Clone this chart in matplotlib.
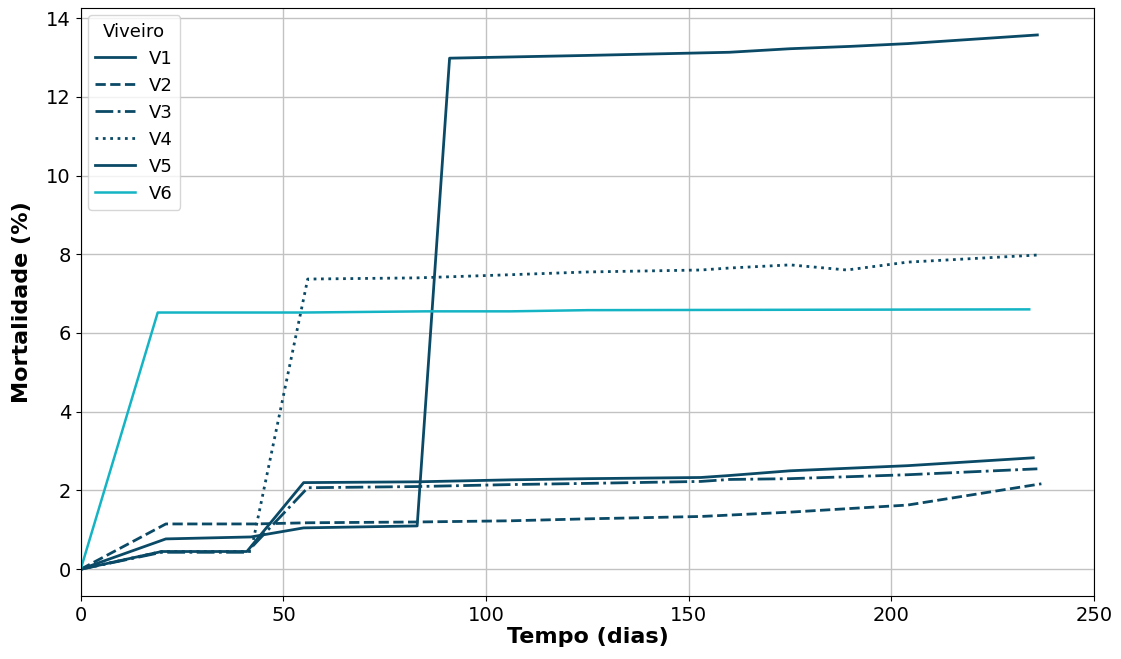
import matplotlib
matplotlib.use("Agg")
import matplotlib.pyplot as plt

# Days and mortality (%) per nursery
days_v1 = [0, 20, 41, 55, 83, 106, 125, 153, 160, 175, 204, 235]
mort_v1 = [0, 0.45, 0.45, 2.20, 2.22, 2.27, 2.30, 2.33, 2.38, 2.50, 2.63, 2.83]

days_v2 = [0, 21, 43, 56, 83, 106, 125, 153, 175, 204, 237]
mort_v2 = [0, 1.15, 1.15, 1.18, 1.20, 1.23, 1.28, 1.34, 1.45, 1.63, 2.17]

days_v3 = [0, 20, 41, 56, 83, 106, 125, 153, 160, 175, 204, 236]
mort_v3 = [0, 0.43, 0.43, 2.07, 2.10, 2.15, 2.18, 2.23, 2.28, 2.30, 2.40, 2.55]

days_v4 = [0, 20, 42, 56, 83, 106, 125, 153, 160, 175, 189, 204, 236]
mort_v4 = [0, 0.45, 0.45, 7.37, 7.40, 7.48, 7.55, 7.60, 7.65, 7.73, 7.60, 7.80, 7.98]

days_v5 = [0, 21, 42, 55, 83, 91, 125, 160, 175, 190, 204, 236]
mort_v5 = [0, 0.77, 0.82, 1.05, 1.10, 12.98, 13.05, 13.13, 13.22, 13.28, 13.35, 13.57]

days_v6 = [0, 19, 55, 85, 106, 125, 234]
mort_v6 = [0, 6.52, 6.52, 6.55, 6.55, 6.58, 6.60]

dark = "#0b4a66"
cyan = "#14b4c4"

fig = plt.figure(figsize=(11.21, 6.59), dpi=100)
ax = fig.add_axes([0.072, 0.0956, 0.904, 0.892])

ax.plot(days_v1, mort_v1, color=dark, linestyle="-", lw=2, label="V1")
ax.plot(days_v2, mort_v2, color=dark, linestyle="--", lw=2, label="V2")
ax.plot(days_v3, mort_v3, color=dark, linestyle="-.", lw=2, label="V3")
ax.plot(days_v4, mort_v4, color=dark, linestyle=":", lw=2, label="V4")
ax.plot(days_v5, mort_v5, color=dark, linestyle="-", lw=2, label="V5")
ax.plot(days_v6, mort_v6, color=cyan, linestyle="-", lw=1.8, label="V6")

ax.set_xlim(0, 250)
ax.set_ylim(-0.68, 14.25)
ax.grid(True, color="#c2c2c2", linewidth=1)
ax.set_axisbelow(True)
ax.tick_params(labelsize=14)
ax.set_xlabel("Tempo (dias)", fontsize=16, fontweight="bold", labelpad=2)
ax.set_ylabel("Mortalidade (%)", fontsize=16, fontweight="bold", labelpad=10)

ax.legend(title="Viveiro", loc="upper left", fontsize=13, title_fontsize=13,
          handlelength=2.2, borderaxespad=0.4)

fig.savefig("out.png", dpi=100)
